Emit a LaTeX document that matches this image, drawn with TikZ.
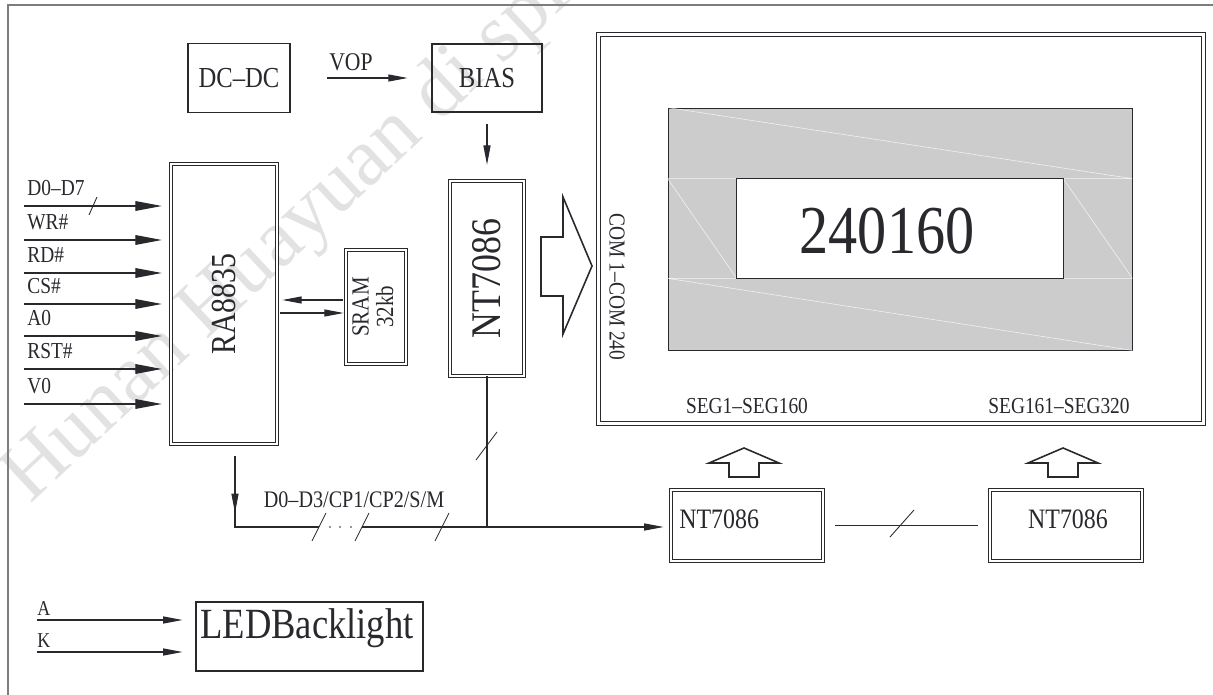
\documentclass[tikz,border=0pt]{standalone}
\usepackage{fontspec}
\setmainfont[FakeStretch=0.85]{Liberation Serif}
\newfontfamily\wmfont{Liberation Serif}
\usepackage{graphicx}
\usepackage{xcolor}
\definecolor{lcdink}{RGB}{40,40,45}
\definecolor{lcdframe}{RGB}{125,125,125}
\definecolor{lcdgray}{RGB}{204,204,204}
\definecolor{lcdmark}{RGB}{226,226,226}
\usetikzlibrary{arrows.meta, positioning, calc}

% upright text turned by 90 degrees, narrowed like the drawing font
\newcommand{\vtext}[1]{\rotatebox{90}{\scalebox{0.85}[1]{\wmfont #1}}}

\tikzset{
  blk/.style={draw=lcdink, line width=0.6pt, inner sep=0pt},
  dblk/.style={draw=lcdink, line width=0.5pt, double=white, double distance=1.4pt, inner sep=0pt},
  sig/.style={draw=lcdink, line width=0.6pt, -{Triangle[length=15pt,width=5.5pt]}},
  sigs/.style={draw=lcdink, line width=0.6pt, -{Triangle[length=11pt,width=4pt]}},
  wire/.style={draw=lcdink, line width=0.6pt},
  tick/.style={draw=lcdink, line width=0.5pt},
  lbl/.style={font=\fontsize{13}{15}\selectfont, inner sep=0pt},
  hollow/.style={draw=lcdink, line width=0.9pt, line join=miter},
}

\begin{document}
\begin{tikzpicture}[x=0.02cm, y=-0.02cm, text=lcdink]
  \useasboundingbox (0,0) rectangle (1213,695);

  % watermark
  \node[font=\wmfont\fontsize{47}{47}\selectfont, text=lcdmark, rotate=43, anchor=base west, inner sep=0pt]
       (wmark) at (30,505) {Hunan Huayuan di splay};

  % sheet frame
  \draw[lcdframe, line width=0.9pt] (8,695) -- (8,5) -- (1213,5);

  % --- Power supply ---
  \node[blk, minimum width=2.04cm, minimum height=1.38cm, font=\fontsize{16.5}{18}\selectfont] (dcdc) at (239,78) {DC--DC};
  \node[blk, minimum width=2.2cm, minimum height=1.36cm, font=\fontsize{16.5}{18}\selectfont] (bias) at (487,78) {BIAS};
  \draw[sigs, shorten <=21pt, shorten >=13.6pt] (dcdc.east) -- (bias.west);
  \node[lbl, font=\fontsize{14.5}{16}\selectfont, anchor=base west] (vop) at (329,71) {VOP};

  % --- Controller and inputs ---
  \node[dblk, minimum width=2.12cm, minimum height=5.6cm, font=\fontsize{20}{22}\selectfont] (ra) at (224,304) {\vtext{RA8835}};
  \foreach \yy/\name [count=\i] in {206/D0--D7, 240/WR\#, 273/RD\#, 304/CS\#, 336/A0, 369/RST\#, 404/V0}{
    \coordinate (in\i) at (24,\yy);
    \node[lbl, anchor=base west] (l\i) at (27,\yy-10) {\name};
    \draw[sig, shorten >=5pt] (in\i) -- (in\i -| ra.west);
  }
  \draw[tick] (89,215) -- (97,197);

  % SRAM
  \node[dblk, minimum width=1.2cm, minimum height=2.28cm, font=\fontsize{14}{14}\selectfont] (sram) at (376,307)
       {\vtext{\begin{tabular}{@{}c@{}}SRAM\\32kb\end{tabular}}};
  \draw[sigs, shorten <=1.2pt, shorten >=2.8pt] ($(sram.west)+(0,-7)$) -- ($(sram.west -| ra.east)+(0,-7)$);
  \draw[sigs, shorten <=1.7pt, shorten >=1.1pt] ($(sram.west -| ra.east)+(0,6)$) -- ($(sram.west)+(0,6)$);

  % --- Common driver ---
  \node[dblk, minimum width=1.48cm, minimum height=3.9cm, font=\fontsize{24}{26}\selectfont] (nt) at (487,278.5) {\vtext{NT7086}};
  \draw[sigs, shorten <=6.8pt, shorten >=9pt] (bias) -- (nt);
  \draw[hollow] (541,237) -- (563,237) -- (563,197) -- (592,266) -- (563,334) -- (563,296) -- (541,296) -- cycle;

  % --- LCD panel ---
  \node[dblk, minimum width=12.1cm, minimum height=7.78cm] (lcd) at (901,229) {};
  \node[draw=lcdink, line width=0.5pt, fill=lcdgray, minimum width=9.28cm, minimum height=4.84cm, inner sep=0pt] (aa) at (900,229) {};
  \node[minimum width=6.52cm, minimum height=1.98cm, inner sep=0pt] (win) at (900,228.5) {};
  \draw[white, line width=0.3pt, opacity=0.8]
    (aa.north west) -- (aa.east |- win.north)
    (aa.west |- win.north) -- (aa.east |- win.north)
    (aa.west |- win.south) -- (aa.east |- win.south)
    (aa.west |- win.north) -- (win.south west)
    (win.north east) -- (aa.east |- win.south)
    (aa.west |- win.south) -- (aa.south east);
  \draw[lcdink, line width=0.5pt, fill=white] (win.north west) rectangle (win.south east);
  \node[font=\fontsize{39}{40}\selectfont] (res) at (887,231) {240160};
  \node[lbl, rotate=-90] (com) at (617,287) {COM 1--COM 240};
  \node[lbl] (seg1) at (747,406) {SEG1--SEG160};
  \node[lbl] (seg2) at (1059,406) {SEG161--SEG320};

  % segment outputs
  \foreach \cx in {744,1063}
    \draw[hollow] (\cx-15,477) -- (\cx-15,463) -- (\cx-35,463) -- (\cx,448) -- (\cx+35,463) -- (\cx+15,463) -- (\cx+15,477) -- cycle;

  % --- Segment drivers ---
  \node[dblk, minimum width=3.04cm, minimum height=1.42cm] (nt2) at (747,525.5) {};
  \node[lbl, font=\fontsize{16}{18}\selectfont, anchor=base west] (nt2t) at (679,528) {NT7086};
  \node[dblk, minimum width=3.04cm, minimum height=1.42cm] (nt3) at (1066,525.5) {};
  \node[lbl, font=\fontsize{16}{18}\selectfont, anchor=base] (nt3t) at (1068,528) {NT7086};
  \draw[wire, shorten <=6.8pt, shorten >=6.8pt] (nt2.east) -- (nt3.west);
  \draw[tick] (890,537) -- (914,510);

  % data bus
  \coordinate (rab) at (235,456);
  \coordinate (bc) at (235,527);
  \coordinate (g1) at (319,527);
  \coordinate (g2) at (362,527);
  \draw[sigs] (rab) -- (235,513);
  \draw[wire] (rab) -- (bc) -- (g1);
  \draw[sigs, shorten >=4pt] (g2) -- (nt2.west |- bc);
  \foreach \dx in {330,340,351}
    \fill[lcdink] (\dx,527) circle (0.45pt);
  \foreach \sx in {319,362,442}
    \draw[tick] (\sx-7,541) -- (\sx+7,513);
  \node[lbl, font=\fontsize{13.5}{15}\selectfont] (bus) at (354,500) {D0--D3/CP1/CP2/S/M};
  \draw[wire] (nt.south) -- (nt.south |- bc);
  \draw[tick] (476,460) -- (497,432);

  % --- Backlight ---
  \node[blk, minimum width=4.54cm, minimum height=1.38cm] (led) at (309.5,636.5) {};
  \node[font=\fontsize{24.5}{26}\selectfont, anchor=base] (ledt) at (307,638) {LEDBacklight};
  \coordinate (pa) at (37,620);
  \coordinate (pk) at (37,652);
  \draw[sigs, shorten >=7.4pt] (pa) -- (pa -| led.west);
  \draw[sigs, shorten >=7.4pt] (pk) -- (pk -| led.west);
  \node[lbl, font=\fontsize{12}{14}\selectfont, anchor=base west] (la) at (37,615) {A};
  \node[lbl, font=\fontsize{12}{14}\selectfont, anchor=base west] (lk) at (37,647) {K};
\end{tikzpicture}
\end{document}
